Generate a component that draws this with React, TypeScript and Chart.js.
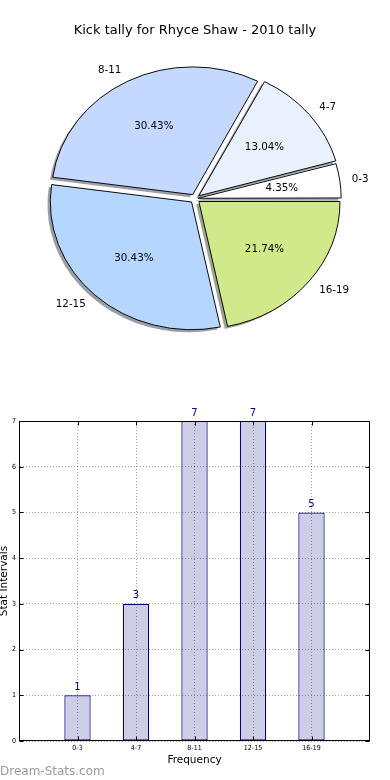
import React, { useEffect, useRef } from 'react';
import { Chart, registerables } from 'chart.js';

Chart.register(...registerables);

// ---------- data ----------
const TITLE = 'Kick tally for Rhyce Shaw - 2010 tally';
const categories = ['0-3', '4-7', '8-11', '12-15', '16-19'];
const counts = [1, 3, 7, 7, 5];
const sliceColors = ['#ffffff', '#e9f1fe', '#c5d9ff', '#b4d6ff', '#cfe98b'];
const yTicks = [0, 1, 2, 3, 4, 5, 6, 7];
const X_TITLE = 'Frequency';
const Y_TITLE = 'Stat Intervals';
const WATERMARK = 'Dream-Stats.com';

// ---------- style ----------
const FONT = "'DejaVu Sans', 'Liberation Sans', sans-serif";
const FONT_COND = "'DejaVu Sans Condensed', 'DejaVu Sans', sans-serif";
const BAR_FILL = '#cdcde6';
const BAR_EDGE = '#000080';
const GRID = 'rgba(0,0,0,0.35)';
const Y_SQUASH = 0.904; // pie is drawn as a slightly flattened ellipse
const PIE_RADIUS = 141;

function hexToRgb(h: string) {
  const n = parseInt(h.slice(1), 16);
  return [(n >> 16) & 255, (n >> 8) & 255, n & 255];
}

function arcGeom(arc: any) {
  const o = (arc.options.offset || 0) / 4;
  const half = (arc.startAngle + arc.endAngle) / 2;
  const circ = arc.endAngle - arc.startAngle;
  const fix = 1 - Math.sin(Math.min(Math.PI, circ));
  return { dx: Math.cos(half) * o, dy: Math.sin(half) * o, r: arc.outerRadius + o * fix, half };
}

function PieChart() {
  const ref = useRef<HTMLCanvasElement>(null);
  useEffect(() => {
    const rev = (a: any[]) => a.slice().reverse();
    const labels = rev(categories);
    const values = rev(counts);
    const colors = rev(sliceColors);
    const total = counts.reduce((a, b) => a + b, 0);

    const piePlugin = {
      id: 'piePlugin',
      beforeDatasetsDraw(chart: any) {
        const meta = chart.getDatasetMeta(0);
        const ctx = chart.ctx;
        const cy = meta.data[0].y;
        ctx.save();
        ctx.translate(0, cy);
        ctx.scale(1, Y_SQUASH);
        ctx.translate(0, -cy);
        meta.data.forEach((arc: any, i: number) => {
          const g = arcGeom(arc);
          const [r, gg, b] = hexToRgb(colors[i]);
          ctx.fillStyle = `rgba(${Math.round(r * 0.3)},${Math.round(gg * 0.3)},${Math.round(b * 0.3)},0.5)`;
          const sx = arc.x + g.dx - 2.8;
          const sy = arc.y + g.dy + 2.8;
          ctx.beginPath();
          ctx.moveTo(sx, sy);
          ctx.arc(sx, sy, g.r, arc.startAngle, arc.endAngle);
          ctx.closePath();
          ctx.fill();
        });
      },
      afterDatasetsDraw(chart: any) {
        chart.ctx.restore();
      },
      afterDraw(chart: any) {
        const meta = chart.getDatasetMeta(0);
        const ctx = chart.ctx;
        ctx.save();
        ctx.fillStyle = '#000';
        ctx.font = `10.3px ${FONT}`;
        ctx.textBaseline = 'middle';
        meta.data.forEach((arc: any, i: number) => {
          const g = arcGeom(arc);
          const R = arc.outerRadius;
          const c = Math.cos(g.half);
          const s = Math.sin(g.half);
          const lx = arc.x + g.dx + 1.1 * R * c;
          const ly = arc.y + Y_SQUASH * (g.dy + 1.1 * R * s);
          ctx.textAlign = c > 0 ? 'left' : 'right';
          ctx.fillText(labels[i], lx, ly);
          const px = arc.x + g.dx + 0.6 * R * c;
          const py = arc.y + Y_SQUASH * (g.dy + 0.6 * R * s);
          ctx.textAlign = 'center';
          ctx.fillText(((values[i] / total) * 100).toFixed(2) + '%', px, py);
        });
        ctx.restore();
      },
    };

    const chart = new Chart(ref.current as HTMLCanvasElement, {
      type: 'pie',
      data: {
        labels,
        datasets: [
          {
            data: values,
            backgroundColor: colors,
            borderColor: '#000',
            borderWidth: 1,
            offset: (c: any) => (values[c.dataIndex] / total < 0.1 ? 12 : 20),
          } as any,
        ],
      },
      options: {
        responsive: false,
        animation: false,
        events: [],
        rotation: 90,
        radius: PIE_RADIUS,
        layout: { padding: { top: 0, bottom: 20.8, left: 0, right: 0 } },
        plugins: {
          legend: { display: false },
          tooltip: { enabled: false },
          title: {
            display: true,
            text: TITLE,
            color: '#000',
            font: { family: FONT, size: 13, weight: 'normal', lineHeight: 1.2 },
            padding: { top: 22.5, bottom: 0 },
          },
        },
      } as any,
      plugins: [piePlugin],
    });
    return () => chart.destroy();
  }, []);
  return (
    <canvas
      ref={ref}
      width={390}
      height={380}
      style={{ position: 'absolute', left: 0, top: 0, display: 'block' }}
    />
  );
}

function BarChart() {
  const ref = useRef<HTMLCanvasElement>(null);
  useEffect(() => {
    const barPlugin = {
      id: 'barPlugin',
      afterDatasetsDraw(chart: any) {
        const meta = chart.getDatasetMeta(0);
        const ctx = chart.ctx;
        ctx.save();
        ctx.fillStyle = '#00008b';
        ctx.font = `10px ${FONT}`;
        ctx.textAlign = 'center';
        ctx.textBaseline = 'alphabetic';
        meta.data.forEach((bar: any, i: number) => {
          ctx.fillText(String(counts[i]), bar.x, bar.y - 5.5);
        });
        ctx.restore();
      },
      afterDraw(chart: any) {
        const ctx = chart.ctx;
        const { left, right, top, bottom } = chart.chartArea;
        const L = Math.round(left) + 0.5;
        const Rr = Math.round(right) - 0.5;
        const T = Math.round(top) + 0.5;
        const B = Math.round(bottom) - 0.5;
        ctx.save();
        ctx.strokeStyle = '#000';
        ctx.lineWidth = 1;
        ctx.beginPath();
        // inward tick marks
        const ys = chart.scales.y;
        yTicks.forEach((v) => {
          const y = Math.round(ys.getPixelForValue(v)) + 0.5;
          ctx.moveTo(L, y);
          ctx.lineTo(L + 4, y);
          ctx.moveTo(Rr, y);
          ctx.lineTo(Rr - 4, y);
        });
        const xs = chart.scales.x;
        categories.forEach((_, i) => {
          const x = Math.round(xs.getPixelForValue(i)) + 0.5;
          ctx.moveTo(x, B);
          ctx.lineTo(x, B - 4);
          ctx.moveTo(x, T);
          ctx.lineTo(x, T + 4);
        });
        ctx.stroke();
        ctx.strokeRect(L, T, Rr - L, B - T);
        ctx.fillStyle = '#999';
        ctx.font = `12px ${FONT}`;
        ctx.textAlign = 'left';
        ctx.textBaseline = 'middle';
        ctx.fillText(WATERMARK, 0, 372);
        ctx.restore();
      },
    };

    const chart = new Chart(ref.current as HTMLCanvasElement, {
      type: 'bar',
      data: {
        datasets: [
          {
            data: counts.map((v, i) => ({ x: i, y: v })),
            backgroundColor: BAR_FILL,
            borderColor: BAR_EDGE,
            borderWidth: 1.2,
            borderSkipped: false,
            barPercentage: 0.45,
            categoryPercentage: 1,
          } as any,
        ],
      },
      options: {
        responsive: false,
        animation: false,
        events: [],
        layout: { padding: { left: 0, right: 20, top: 21, bottom: 0 } },
        plugins: {
          legend: { display: false },
          tooltip: { enabled: false },
        },
        scales: {
          x: {
            type: 'linear',
            min: -1,
            max: 5,
            offset: false,
            afterBuildTicks: (axis: any) => {
              axis.ticks = categories.map((_, i) => ({ value: i }));
            },
            afterFit: (axis: any) => {
              axis.height = 39;
            },
            ticks: {
              callback: (v: any) => categories[v] ?? '',
              font: { family: FONT_COND, size: 7 },
              color: '#000',
              padding: 3,
              maxRotation: 0,
              autoSkip: false,
            },
            grid: { color: GRID, lineWidth: 1, drawTicks: false, z: 1, offset: false },
            border: { display: true, color: 'rgba(0,0,0,0)', dash: [1, 2], z: 2 },
            title: {
              display: true,
              text: X_TITLE,
              color: '#000',
              font: { family: FONT, size: 10.5, lineHeight: 1.2 },
              padding: { top: 0, bottom: 13.7 },
            },
          },
          y: {
            type: 'linear',
            min: 0,
            max: 7,
            afterBuildTicks: (axis: any) => {
              axis.ticks = yTicks.map((v) => ({ value: v }));
            },
            afterFit: (axis: any) => {
              axis.width = 19;
            },
            ticks: {
              font: { family: FONT_COND, size: 7 },
              color: '#000',
              padding: 3,
            },
            grid: { color: GRID, lineWidth: 1, drawTicks: false, z: 1, offset: false },
            border: { display: true, color: 'rgba(0,0,0,0)', dash: [1, 2], z: 2 },
            title: {
              display: true,
              text: Y_TITLE,
              color: '#000',
              font: { family: FONT, size: 10.5, lineHeight: 1.2 },
              padding: { top: -2, bottom: 0 },
            },
          },
        },
      } as any,
      plugins: [barPlugin],
    });
    return () => chart.destroy();
  }, []);
  return (
    <canvas
      ref={ref}
      width={390}
      height={380}
      style={{ position: 'absolute', left: 0, top: 400, display: 'block' }}
    />
  );
}

export default function App() {
  return (
    <div style={{ position: 'absolute', left: 0, top: 0, width: 390, height: 780, background: '#fff' }}>
      <PieChart />
      <BarChart />
    </div>
  );
}
